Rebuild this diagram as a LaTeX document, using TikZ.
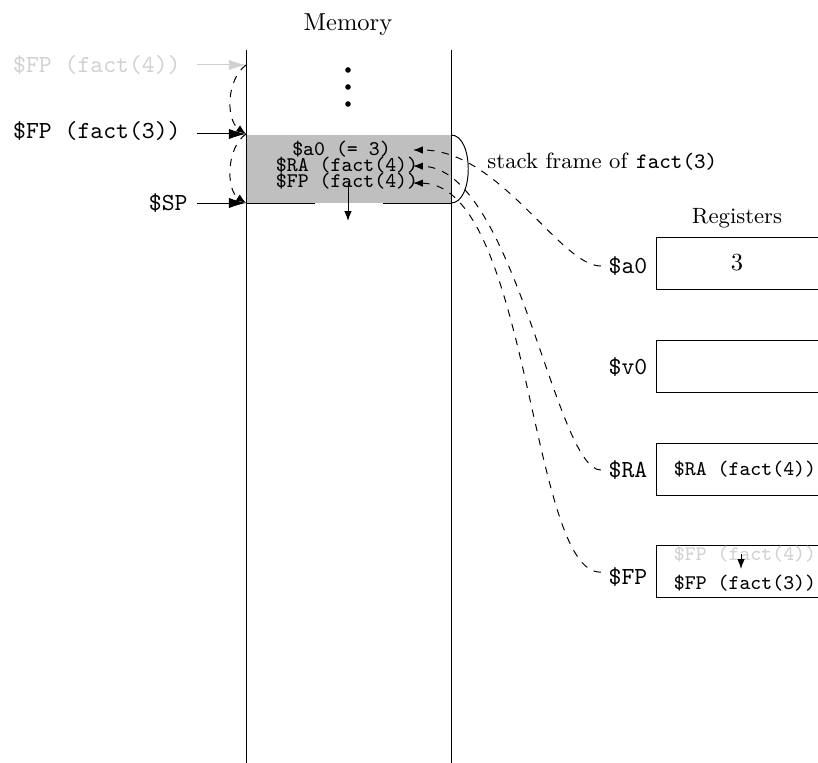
\documentclass[tikz,border=0pt]{standalone}
\usepackage{fontspec}
\usetikzlibrary{arrows.meta}
\begin{document}
\begin{tikzpicture}[x=0.408pt,y=-0.408pt,
  bigarr/.style={-{Latex[length=7pt,width=4.2pt]}},
  smallarr/.style={-{Latex[length=4pt,width=3pt]}},
  lbl/.style={font=\ttfamily, inner sep=0pt},
  memtxt/.style={font=\fontsize{8.5}{10}\selectfont\ttfamily, inner sep=0pt},
  rowtxt/.style={memtxt, text height=5pt, text depth=1pt},
  regbox/.style={draw, anchor=north west, minimum width=70pt, minimum height=21.2pt, inner sep=0pt},
  faded/.style={black!18}]
\useasboundingbox (0,0) rectangle (818,763);

% memory column
\node (memtitle) at (348,25) {Memory};
\fill[gray!50] (246.5,135) rectangle (450.5,203);
\draw (246,50) -- (246,775);
\draw (451,50) -- (451,775);
\draw (246,203) -- (315,203);
\draw (383,203) -- (451,203);
\foreach \yy in {70,87,104} \fill (348,\yy) circle (2.8);

% frame contents
\node[rowtxt] (a0m) at (341.5,151) {\$a0 (= 3)};
\node[rowtxt] (ram) at (347,167) {\$RA (fact(4))};
\node[rowtxt] (fpm) at (347,183) {\$FP (fact(4))};
\coordinate (tipA) at (413,150);
\coordinate (tipR) at (413,166);
\coordinate (tipF) at (413,183);
\coordinate (spnew) at (348,221);
\draw[smallarr] (fpm.center -| spnew) -- (spnew);

% frame brace arc and label
\draw (451,135) .. controls (474,135) and (474,203) .. (451,203);
\node[font=\small, anchor=west, inner sep=0pt] (sf) at (487,162) {stack frame of \texttt{fact(3)}};

% left pointers
\node[lbl, text=black!18, anchor=east] (fp4) at (181,65) {\$FP (fact(4))};
\node[lbl, anchor=east] (fp3) at (181,131) {\$FP (fact(3))};
\node[lbl, anchor=east] (sp) at (188,203) {\$SP};
\coordinate (mFP4) at (246,65);
\coordinate (mFP3) at (246,134);
\coordinate (mSP) at (246,203);
\draw[bigarr, faded, shorten <=6.5pt] (fp4.east |- mFP4) -- (mFP4);
\draw[bigarr, shorten <=6.5pt] (fp3.east |- mFP3) -- (mFP3);
\draw[bigarr, shorten <=3.7pt] (sp.east |- mSP) -- (mSP);
\draw[dashed, smallarr] (mFP4) .. controls (226,80) and (226,120) .. (mFP3);
\draw[dashed, smallarr] (mFP3) .. controls (226,148) and (226,190) .. (mSP);

% registers
\node[font=\small] (regtitle) at (737,218) {Registers};
\node[regbox] (a0box) at (656,237) {};
\node[regbox] (v0box) at (656,340) {};
\node[regbox] (rabox) at (656,443) {};
\node[regbox] (fpbox) at (656,545) {};
\node (a0val) at (737,263) {3};
\node[memtxt] (raval) at (745,469) {\$RA (fact(4))};
\node[rowtxt, text=black!18] (fpold) at (745,556) {\$FP (fact(4))};
\node[rowtxt] (fpnew) at (745,585) {\$FP (fact(3))};
\coordinate (fpnewtop) at (741,569);
\draw[smallarr] ([yshift=1pt]fpold.center -| fpnewtop) -- (fpnewtop);

\node[lbl, inner sep=3pt] (a0reg) at (628,266) {\$a0};
\node[lbl, inner sep=3pt] (v0reg) at (628,367) {\$v0};
\node[lbl, inner sep=3pt] (rareg) at (628,470) {\$RA};
\node[lbl, inner sep=3pt] (fpreg) at (628,577) {\$FP};

% dashed links
\draw[dashed, smallarr] (a0reg.west) .. controls (560,266) and (500,150) .. (tipA);
\draw[dashed, smallarr] (rareg.west) .. controls (555,470) and (515,168) .. (tipR);
\draw[dashed, smallarr] ([yshift=2pt]fpreg.west) .. controls (530,575) and (530,185) .. (tipF);
\end{tikzpicture}
\end{document}
